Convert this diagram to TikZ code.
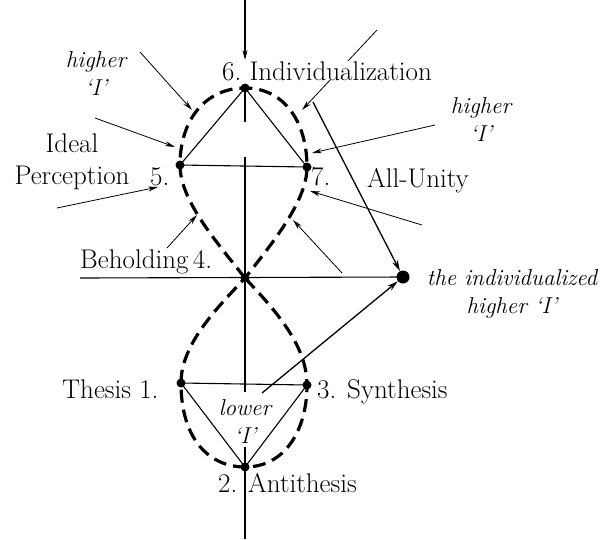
\documentclass[tikz,border=0pt]{standalone}
\usepackage{fontspec}
\usetikzlibrary{arrows.meta}

\begin{document}
\begin{tikzpicture}[
          x=1pt, y=-1pt,
          dot/.style={circle, fill, inner sep=0pt, minimum size=9pt},
          bigdot/.style={circle, fill, inner sep=0pt, minimum size=13pt},
          loopline/.style={line width=3.2pt, dash pattern=on 13pt off 7pt},
          axis/.style={line width=1.1pt},
          ray/.style={line width=0.8pt, -{Stealth[length=10pt,width=5pt]}},
          longray/.style={line width=1.3pt, -{Stealth[length=11pt,width=6pt]}},
          lbl/.style={font=\fontsize{27}{32}\selectfont\addfontfeature{FakeBold=0.6}, inner sep=0pt},
          ilbl/.style={font=\fontsize{23}{28}\selectfont\itshape\addfontfeature{FakeBold=0.4}, align=center, inner sep=1pt}
        ]
          \useasboundingbox (0,0) rectangle (601,539);

          % points of the figure
          \node[dot] (p6) at (245,88) {};
          \node[dot] (p5) at (180,165) {};
          \node[dot] (p7) at (307,167) {};
          \node[dot] (p4) at (245,278) {};
          \node[dot] (p1) at (181,383) {};
          \node[dot] (p3) at (307,385) {};
          \node[dot] (p2) at (245,467) {};
          \node[bigdot] (ih) at (403,277) {};

          \coordinate (top) at (245,0);
          \coordinate (toptip) at (245,60);
          \coordinate (axA) at (245,122);
          \coordinate (axB) at (245,157);
          \coordinate (axC) at (245,392);
          \coordinate (axD) at (245,447);
          \coordinate (bot) at (245,539);
          \coordinate (left) at (80,278);

          % axes and triangles
          \draw[axis, -{Stealth[length=10pt,width=5pt]}] (top) -- (toptip);
          \draw[axis] (p6.center) -- (axA);
          \draw[axis] (axB) -- (p4.center) -- (axC);
          \draw[axis] (axD) -- (bot);
          \draw[axis] (left) -- (ih.center);
          \draw[axis] (p5.center) -- (p6.center) -- (p7.center) -- cycle;
          \draw[axis] (p1.center) -- (p2.center) -- (p3.center) -- cycle;

          % the dashed eight
          \draw[loopline] (p4.center) .. controls (215,240) and (180,200) .. (p5.center)
            .. controls (180,118) and (207,88) .. (p6.center)
            .. controls (285,88) and (307,123) .. (p7.center)
            .. controls (307,200) and (275,240) .. (p4.center)
            .. controls (215,310) and (181,345) .. (p1.center)
            .. controls (181,440) and (210,467) .. (p2.center)
            .. controls (285,467) and (307,430) .. (p3.center)
            .. controls (307,345) and (275,310) .. (p4.center);

          % incoming rays
          \coordinate (r1a) at (377,30);   \coordinate (r1b) at (302,110);
          \coordinate (r2a) at (140,52);   \coordinate (r2b) at (192,110);
          \coordinate (r3a) at (95,118);   \coordinate (r3b) at (175,147);
          \coordinate (r4a) at (57,208);   \coordinate (r4b) at (158,187);
          \coordinate (r5a) at (167,248);  \coordinate (r5b) at (197,215);
          \coordinate (r6a) at (435,125);  \coordinate (r6b) at (312,153);
          \coordinate (r7a) at (422,225);  \coordinate (r7b) at (310,191);
          \coordinate (r8a) at (342,273);  \coordinate (r8b) at (293,220);
          \coordinate (la) at (313,102);
          \coordinate (lb) at (262,393);
          \foreach \r in {r1,r2,r3,r4,r5,r6,r7,r8}
            \draw[ray] (\r a) -- (\r b);
          \draw[longray] (la) -- (ih);
          \draw[longray] (lb) -- (ih);

          % labels
          \node[lbl, fill=white, anchor=base west] (l6) at (222,80) {6.\ Individualization};
          \node[ilbl] (hl) at (96,74) {higher\\`I'};
          \node[lbl, align=center] (ideal) at (72,162) {Ideal\\Perception};
          \node[lbl, anchor=base west] (l5) at (150,185) {5.};
          \node[lbl, anchor=base west] (l7) at (311,185) {7.};
          \node[lbl, anchor=base west] (unity) at (367,187) {All-Unity};
          \node[ilbl] (hr) at (481,120) {higher\\`I'};
          \node[lbl, anchor=base west] (behold) at (80,268) {Beholding\,4.};
          \node[ilbl] (ihl) at (512,294) {the individualized\\higher `I'};
          \node[lbl, anchor=base west] (thesis) at (62,398) {Thesis 1.};
          \node[lbl, anchor=base west] (synth) at (317,398) {3. Synthesis};
          \node[ilbl] (low) at (245,422) {lower\\`I'};
          \node[lbl, anchor=base west] (anti) at (218,492) {2. Antithesis};
        \end{tikzpicture}
\end{document}
